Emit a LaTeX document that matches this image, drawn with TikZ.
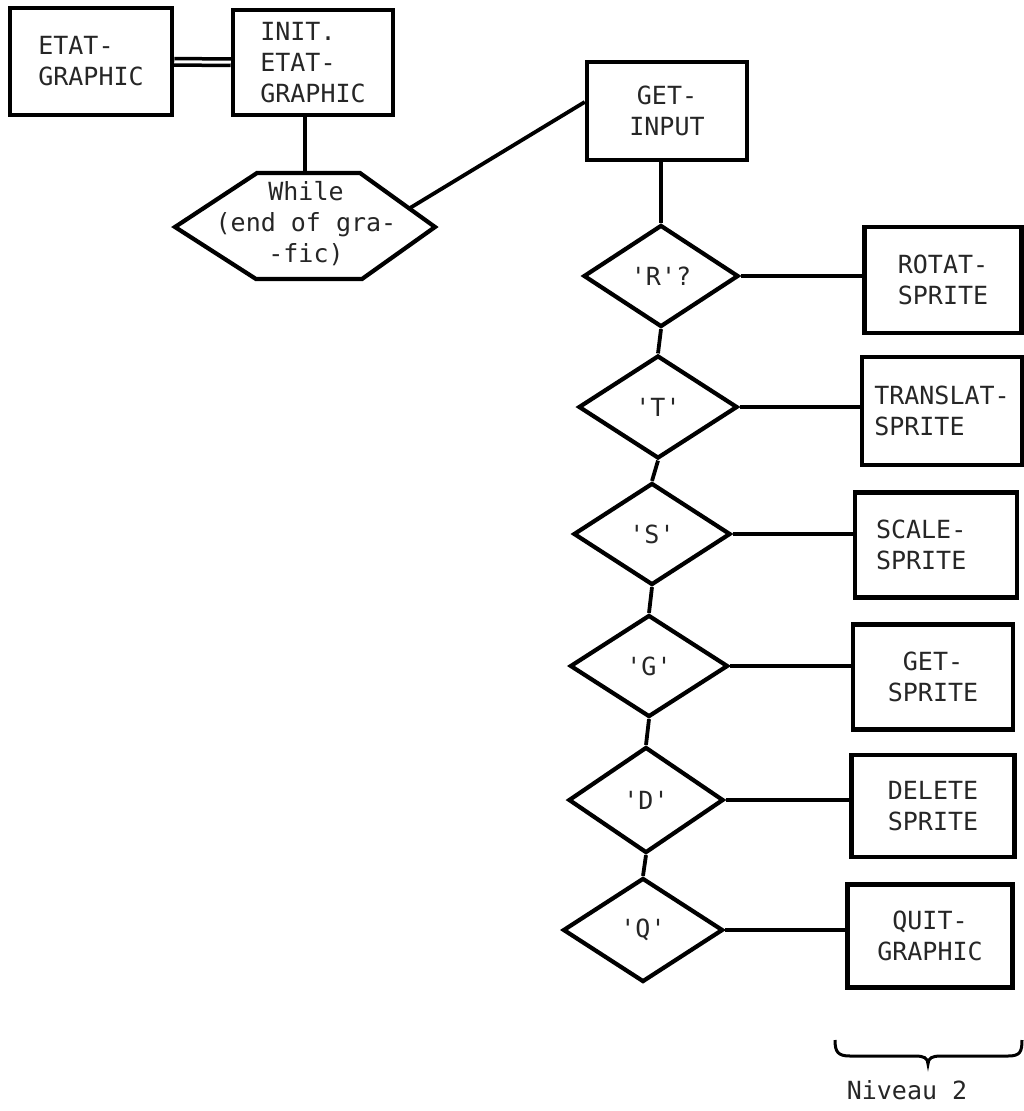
\documentclass[tikz,border=0pt]{standalone}
\usepackage{fontspec}
\setmonofont{DejaVu Sans Mono}
\usetikzlibrary{shapes.geometric}
\begin{document}
\begin{tikzpicture}[x=1pt,y=-1pt,
  txt/.style={font=\ttfamily\fontsize{25}{31}\selectfont, text=black!85},
  box/.style={txt, draw, rectangle, line width=4.5pt, inner sep=0pt, align=center},
  dia/.style={txt, draw, diamond, line width=4.2pt, inner sep=0pt, aspect=1.5},
  conn/.style={line width=3.8pt}]
\useasboundingbox (0,0) rectangle (1024,1111);

% top left
\node[box, align=left, minimum width=162pt, minimum height=107pt] (etat) at (91,61.5) {ETAT-\\GRAPHIC};
\node[box, align=left, minimum width=160pt, minimum height=105pt] (init) at (313,62.5) {INIT.\\ETAT-\\GRAPHIC};
\draw[line width=3.5pt, double, double distance=3pt] (etat) -- (init);

% while hexagon
\coordinate (hextop) at (305,173);
\coordinate (hexur) at (410,208);
\draw[line width=4.2pt, line join=miter] (257,173) -- (360,173) -- (435,227) -- (362,279) -- (256,279) -- (175,227) -- cycle;
\node[txt, align=center] (while) at (306,224) {While\\(end of gra-\\-fic)};
\draw[conn] (init.south -| hextop) -- (hextop);

% get input
\node[box, minimum width=160pt, minimum height=98pt] (getin) at (667,111) {GET-\\INPUT};
\draw[conn] (hexur) -- ([yshift=9pt]getin.west);

% diamonds
\node[dia, minimum width=155pt, minimum height=102pt] (dR) at (661,276) {'R'?};
\node[dia, minimum width=159pt, minimum height=103pt] (dT) at (658,407) {'T'};
\node[dia, minimum width=157pt, minimum height=102pt] (dS) at (652,534) {'S'};
\node[dia, minimum width=158pt, minimum height=102pt] (dG) at (649,666) {'G'};
\node[dia, minimum width=155pt, minimum height=106pt] (dD) at (646,800) {'D'};
\node[dia, minimum width=160pt, minimum height=104pt] (dQ) at (643,930) {'Q'};

% boxes
\node[box, minimum width=157pt, minimum height=106pt] (rot) at (943,280) {ROTAT-\\SPRITE};
\node[box, align=left, minimum width=160pt, minimum height=108pt] (trans) at (942,411) {TRANSLAT-\\SPRITE};
\node[box, align=left, text width=120pt, minimum width=162pt, minimum height=105pt] (scale) at (936,545) {SCALE-\\SPRITE};
\node[box, minimum width=160pt, minimum height=105pt] (gets) at (933,677) {GET-\\SPRITE};
\node[box, minimum width=163pt, minimum height=102pt] (del) at (933,806) {DELETE\\SPRITE};
\node[box, minimum width=165pt, minimum height=103pt] (quit) at (930,936) {QUIT-\\GRAPHIC};

% vertical chain
\draw[conn] (getin.south -| dR.north) -- (dR.north);
\draw[conn] (dR.south) -- (dT.north);
\draw[conn] (dT.south) -- (dS.north);
\draw[conn] (dS.south) -- (dG.north);
\draw[conn] (dG.south) -- (dD.north);
\draw[conn] (dD.south) -- (dQ.north);

% horizontal connectors
\draw[conn] (dR.east) -- (dR.east -| rot.west);
\draw[conn] (dT.east) -- (dT.east -| trans.west);
\draw[conn] (dS.east) -- (dS.east -| scale.west);
\draw[conn] (dG.east) -- (dG.east -| gets.west);
\draw[conn] (dD.east) -- (dD.east -| del.west);
\draw[conn] (dQ.east) -- (dQ.east -| quit.west);

% brace
\draw[line width=3pt] (835,1040) .. controls (835,1052) and (838,1056) .. (850,1056) -- (915,1056) .. controls (924,1056) and (928,1058) .. (928,1064) .. controls (928,1058) and (932,1056) .. (941,1056) -- (1008,1056) .. controls (1020,1056) and (1022,1052) .. (1022,1040);
\node[txt] (niv) at (907,1090) {Niveau 2};
\end{tikzpicture}
\end{document}
